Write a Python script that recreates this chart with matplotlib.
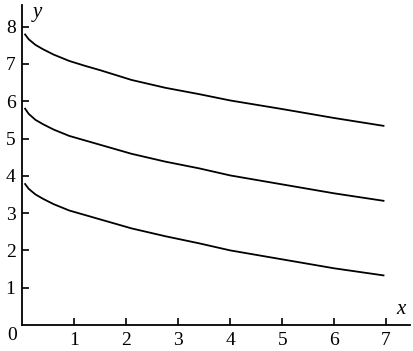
import matplotlib
matplotlib.use('Agg')
import matplotlib.pyplot as plt

# values
x_vals = [0.05, 0.12, 0.25, 0.4, 0.6, 0.9, 1.2, 1.5, 2.1, 2.75, 3.4, 4.0, 5.0, 6.0, 6.95]
y_low = [3.78, 3.65, 3.50, 3.38, 3.24, 3.07, 2.95, 2.83, 2.59, 2.38, 2.19, 2.00, 1.76, 1.52, 1.33]
y_mid = [5.80, 5.66, 5.50, 5.38, 5.24, 5.07, 4.95, 4.83, 4.59, 4.38, 4.20, 4.01, 3.77, 3.53, 3.33]
y_top = [7.79, 7.66, 7.51, 7.39, 7.25, 7.08, 6.95, 6.83, 6.57, 6.36, 6.19, 6.02, 5.79, 5.55, 5.34]
xticks = [1, 2, 3, 4, 5, 6, 7]
yticks = [1, 2, 3, 4, 5, 6, 7, 8]

plt.rcParams['font.family'] = 'serif'
plt.rcParams['font.serif'] = ['Liberation Serif']

W, H = 414, 351
fig = plt.figure(figsize=(W / 100, H / 100), dpi=100)
ax = fig.add_axes([22.5 / W, (H - 325) / H, (410 - 22.5) / W, (325 - 5) / H])

for ys in (y_low, y_mid, y_top):
    ax.plot(x_vals, ys, color='black', lw=1.3)

ax.set_xlim(0, 7.46)
ax.set_ylim(0, 8.58)
ax.spines['top'].set_visible(False)
ax.spines['right'].set_visible(False)
for s in ('left', 'bottom'):
    ax.spines[s].set_linewidth(1.3)

ax.set_xticks(xticks)
ax.set_yticks(yticks)
ax.tick_params(direction='in', length=5, width=1.2, labelsize=14, colors='black')
ax.tick_params(axis='x', pad=5)
ax.tick_params(axis='y', pad=5)

fig.text(12 / W, 1 - 336 / H, '0', fontsize=14, ha='center', va='center')
fig.text(37 / W, 1 - 12 / H, 'y', fontsize=15, style='italic', ha='center', va='center')
fig.text(401 / W, 1 - 310 / H, 'x', fontsize=15, style='italic', ha='center', va='center')

fig.savefig('out.png', dpi=100)
